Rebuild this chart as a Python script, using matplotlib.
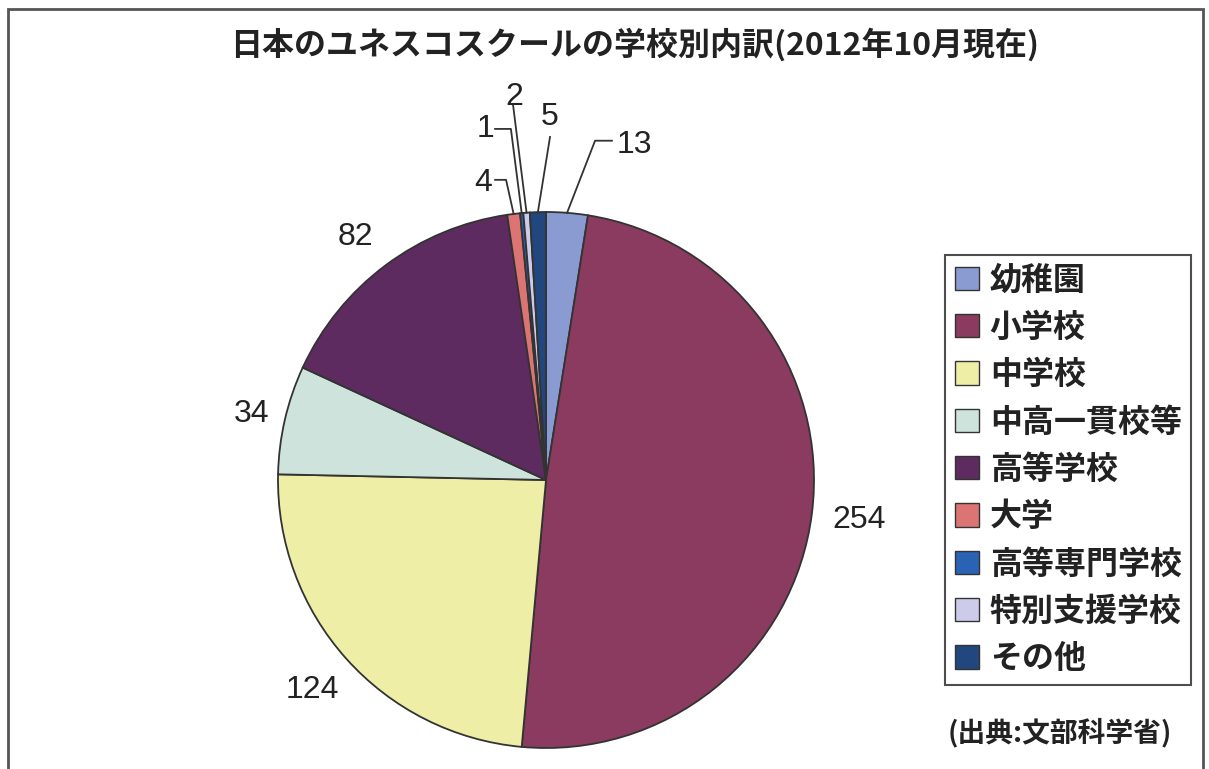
import matplotlib
matplotlib.use("Agg")
import matplotlib.pyplot as plt
from matplotlib.patches import Patch, Rectangle
import numpy as np

plt.rcParams['font.family'] = ['Noto Sans CJK JP', 'DejaVu Sans']

# ---- data ----
categories = ['幼稚園', '小学校', '中学校', '中高一貫校等', '高等学校', '大学',
              '高等専門学校', '特別支援学校', 'その他']
values = [13, 254, 124, 34, 82, 4, 1, 2, 5]
colors = ['#8a9bd2', '#8b3b5f', '#eeeea6', '#cde3dc', '#5d2b5f', '#dc7474',
          '#2a62b4', '#ccccea', '#22467e']
title = '日本のユネスコスクールの学校別内訳(2012年10月現在)'
source = '(出典:文部科学省)'

W, H = 1209, 769
fig = plt.figure(figsize=(W / 100, H / 100), dpi=100)
fig.patch.set_facecolor('white')

# pie axes: centre (546, 480) px, radius 268 px
cx, cy, r = 546, 480, 268
ax = fig.add_axes([(cx - r) / W, (H - cy - r) / H, 2 * r / W, 2 * r / H])

wedges, _ = ax.pie(values, colors=colors, startangle=90, counterclock=False,
                   radius=1, wedgeprops=dict(edgecolor='#333333', linewidth=1.3))
ax.set_xlim(-1, 1)
ax.set_ylim(-1, 1)
ax.set_aspect('equal')
ax.axis('off')

# label layout (data coords, layout only)
label_pos = {
    0: (0.33, 1.25),
    1: (1.17, -0.15),
    2: (-0.87, -0.785),
    3: (-1.10, 0.245),
    4: (-0.71, 0.905),
    5: (-0.235, 1.11),
    6: (-0.225, 1.31),
    7: (-0.12, 1.43),
    8: (0.015, 1.355),
}
# leader lines: intermediate points then end point
leaders = {
    0: [(0.183, 1.266), (0.246, 1.266)],
    5: [(-0.149, 1.12), (-0.19, 1.12)],
    6: [(-0.131, 1.31), (-0.19, 1.31)],
    7: [(-0.123, 1.40)],
    8: [(0.015, 1.28)],
}

for i, w in enumerate(wedges):
    x, y = label_pos[i]
    ax.text(x, y, str(values[i]), ha='center', va='center',
            fontsize=23, family=['Liberation Sans', 'DejaVu Sans'],
            color='#222222', clip_on=False)
    if i in leaders:
        ang = np.deg2rad((w.theta1 + w.theta2) / 2)
        pts = [(np.cos(ang), np.sin(ang))] + leaders[i]
        xs, ys = zip(*pts)
        ax.plot(xs, ys, color='#333333', lw=1.3, clip_on=False)

# title
fig.text(635 / W, 1 - 45 / H, title, ha='center', va='center',
         fontsize=23, color='#222222', fontweight='bold')

# legend
handles = [Patch(facecolor=c, edgecolor='#333333', linewidth=1.0) for c in colors]
leg = fig.legend(handles, categories, loc='upper left',
                 bbox_to_anchor=(945 / W, 1 - 255 / H), borderaxespad=0,
                 prop=dict(size=23, weight='bold'), frameon=True, fancybox=False,
                 handlelength=0.75, handleheight=0.75, handletextpad=0.35,
                 labelspacing=0.48, borderpad=0.3)
leg.get_frame().set_edgecolor('#222222')
leg.get_frame().set_linewidth(1.5)
for t in leg.get_texts():
    t.set_color('#222222')

# source
fig.text(1060 / W, 1 - 733 / H, source, ha='center', va='center',
         fontsize=20, color='#222222', fontweight='bold')

# outer frame
fig.add_artist(Rectangle((8 / W, -0.05), (1203 - 8) / W, 1.05 - 9 / H,
                         transform=fig.transFigure, fill=False,
                         edgecolor='#555555', linewidth=2.0))

fig.savefig('out.png', dpi=100, facecolor='white')
